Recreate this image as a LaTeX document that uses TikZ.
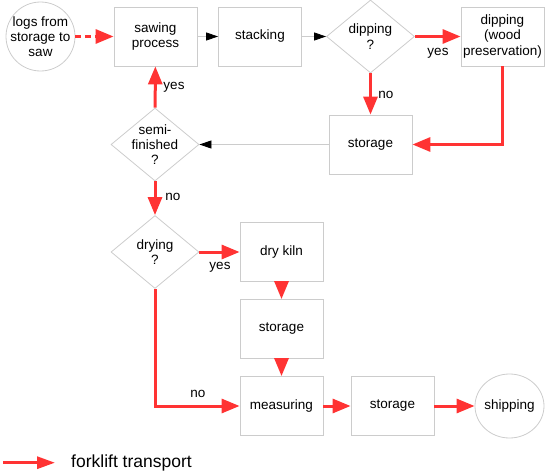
\documentclass[tikz,border=0pt]{standalone}
\usepackage{fontspec}
\setmainfont{Liberation Sans}
\usetikzlibrary{shapes.geometric,arrows.meta}
\definecolor{fred}{RGB}{255,51,51}
\definecolor{lgrey}{RGB}{204,204,204}
\begin{document}
\begin{tikzpicture}[x=1pt,y=-1pt,
  font=\fontsize{13.5}{15.3}\selectfont,
  box/.style={draw=lgrey,line width=0.8pt,minimum width=83pt,minimum height=59pt,inner sep=0pt,align=center},
  dia/.style={draw=lgrey,line width=0.8pt,diamond,minimum width=88pt,minimum height=73pt,inner sep=0pt},
  ell/.style={draw=lgrey,line width=0.8pt,ellipse,inner sep=0pt},
  txt/.style={align=center,inner sep=0pt},
  fork/.style={draw=fred,line width=3pt,-{Triangle[length=18pt,width=14pt]}},
  flow/.style={draw=lgrey,line width=0.8pt,-{Triangle[length=12pt,width=8pt,color=black]}},
  lab/.style={inner sep=0pt}
]
\useasboundingbox (0,0) rectangle (550,474);
\node[ell,minimum width=69pt,minimum height=69pt] (logs) at (40.5,36.5) {};
\node[txt] (logst) at (logs) {logs from\\storage to\\saw};
\node[box] (saw) at (155.5,36.5) {sawing\\process};
\node[box] (stack) at (260,36.5) {stacking};
\node[dia] (dipq) at (370.5,36.5) {};
\node[txt] (dipqt) at (dipq) {dipping\\?};
\node[box] (dip) at (502.5,36.5) {dipping\\(wood\\preservation)};
\node[box] (st1) at (370.5,144.5) {storage};
\node[dia] (semi) at (155,144.5) {};
\node[txt] (semit) at (semi) {semi-\\finished\\?};
\node[dia] (dry) at (155,252) {};
\node[txt] (dryt) at (dry) {drying\\?};
\node[box] (kiln) at (281.5,252) {dry kiln};
\node[box] (st2) at (281.5,329) {storage};
\node[box] (meas) at (281.5,406) {measuring};
\node[box] (st3) at (392.5,406) {storage};
\node[ell,minimum width=69pt,minimum height=64pt] (ship) at (509.5,406) {};
\node[txt] (shipt) at (ship) {shipping};

\draw[fork,dash pattern=on 6pt off 4pt] (logs) -- (saw);
\draw[flow] (saw) -- (stack);
\draw[flow] (stack) -- (dipq);
\draw[fork] (dipq) -- (dip);
\draw[fork] (dipq) -- (st1);
\draw[fork] (dip.south) |- (st1.east);
\draw[flow] (st1) -- (semi);
\draw[fork] (semi) -- (saw);
\draw[fork] (semi) -- (dry);
\draw[fork] (dry) -- (kiln);
\draw[fork] (kiln) -- (st2);
\draw[fork] (st2) -- (meas);
\draw[fork] (dry.south) |- (meas.west);
\draw[fork] (meas) -- (st3);
\draw[fork] (st3) -- (ship);

\node[lab] (y1) at (438,53) {yes};
\node[lab] (n1) at (386,95) {no};
\node[lab] (y2) at (174,87) {yes};
\node[lab] (n2) at (173,197) {no};
\node[lab] (y3) at (220,267) {yes};
\node[lab] (n3) at (198,394) {no};

\coordinate (la) at (3,462.7);
\coordinate (lb) at (55,462.7);
\draw[fork,-{Triangle[length=18pt,width=12pt]}] (la) -- (lb);
\node[anchor=west,inner sep=0pt,font=\fontsize{17.5}{20}\selectfont] (legt) at (71,462.7) {forklift transport};
\end{tikzpicture}
\end{document}
